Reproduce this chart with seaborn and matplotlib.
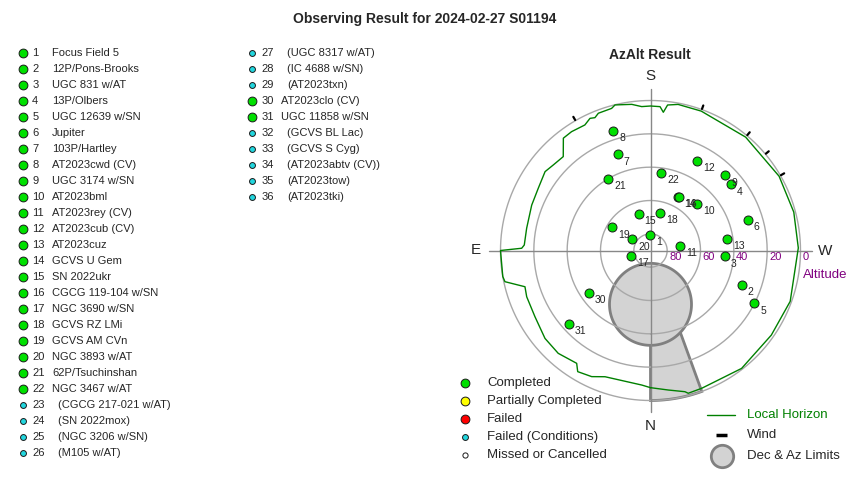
import numpy as np
import pandas as pd
import matplotlib
matplotlib.use('Agg')
import matplotlib.pyplot as plt
import seaborn as sns

# --- data ---------------------------------------------------------------
chart_title = 'Observing Result for 2024-02-27 S01194'

target_ids = list(range(1, 37))
target_names = ['Focus Field 5', '12P/Pons-Brooks', 'UGC 831 w/AT', '13P/Olbers',
                'UGC 12639 w/SN', 'Jupiter', '103P/Hartley', 'AT2023cwd (CV)',
                'UGC 3174 w/SN', 'AT2023bml', 'AT2023rey (CV)', 'AT2023cub (CV)',
                'AT2023cuz', 'GCVS U Gem', 'SN 2022ukr', 'CGCG 119-104 w/SN',
                'NGC 3690 w/SN', 'GCVS RZ LMi', 'GCVS AM CVn', 'NGC 3893 w/AT',
                '62P/Tsuchinshan', 'NGC 3467 w/AT', '(CGCG 217-021 w/AT)', '(SN 2022mox)',
                '(NGC 3206 w/SN)', '(M105 w/AT)', '(UGC 8317 w/AT)', '(IC 4688 w/SN)',
                '(AT2023txn)', 'AT2023clo (CV)', 'UGC 11858 w/SN', '(GCVS BL Lac)',
                '(GCVS S Cyg)', '(AT2023abtv (CV))', '(AT2023tow)', '(AT2023tki)']
# C = completed, F = failed (conditions)
target_status = ['C', 'C', 'C', 'C', 'C', 'C', 'C', 'C', 'C', 'C', 'C', 'C',
                 'C', 'C', 'C', 'C', 'C', 'C', 'C', 'C', 'C', 'C', 'F', 'F',
                 'F', 'F', 'F', 'F', 'F', 'C', 'C', 'F', 'F', 'F', 'F', 'F']

# observed positions (azimuth from N through E, altitude) in degrees
obs_ids = [1, 2, 3, 4, 5, 6, 7, 8, 9, 10, 11, 12, 13, 14, 15, 16, 17, 18, 19, 20, 21, 22, 30, 31]
obs_az = [179.3, 290.7, 274.5, 230.6, 297.0, 252.7, 161.3, 162.8, 224.8, 225.4, 260.7, 207.6,
          261.5, 207.5, 161.9, 207.9, 74.0, 194.8, 120.9, 121.6, 149.3, 188.0, 55.5, 48.0]
obs_alt = [80.7, 31.5, 45.2, 27.5, 20.1, 28.9, 29.1, 14.7, 26.4, 50.5, 72.2, 29.4,
           43.4, 53.8, 67.1, 53.6, 78.0, 66.9, 62.9, 77.2, 40.1, 43.2, 45.0, 23.9]

horizon_az = [0, 3.7, 19.8, 25.0, 31.0, 33.2, 41.9, 50.2, 60.2, 69.5, 73.9, 77.9, 80, 90,
              91.0, 92.5, 100.2, 110.9, 119.0, 126.8, 131.3, 137.1, 142.2, 146.4, 152.4,
              155.4, 157.3, 159.2, 164.7, 166.3, 172.7, 176.5, 180, 183.8, 185.3, 186.7,
              190.7, 200, 220, 240, 255, 269, 290, 305, 322.3, 339.6, 345.2, 346.3, 352.7, 360]
horizon_alt = [7.7, 9.1, 9.5, 6.5, 5.2, 9.1, 7.1, 7.6, 10.1, 10.7, 11.6, 0.7, 0.0, 0.0,
               12.7, 14.2, 14.5, 13.7, 13.0, 11.0, 12.3, 13.1, 4.7, 4.4, 5.0,
               2.8, 3.6, 1.9, 1.6, 0.1, 1.6, 3.5, 3.3, 3.5, 6.7, 2.1,
               0.8, 1.0, 1.2, 0.9, 1.0, 1.3, 0.8, 1.5, 0.6, 1.8, 1.4, 2.8, 5.6, 7.7]

wind_az = [150, 200, 220, 230, 240]

ring_alt = [80, 60, 40, 20, 0]
cardinal_names = ['N', 'E', 'S', 'W']
cardinal_az = [0, 90, 180, 270]

# declination / azimuth limit region
limit_center_zd = 32.3
limit_radius = 24.6
limit_wedge_az = [340, 360]

status_labels = ['Completed', 'Partially Completed', 'Failed', 'Failed (Conditions)', 'Missed or Cancelled']
status_colors = ['#00e000', '#ffff00', '#ff0000', '#22d6de', '#ffffff']
status_sizes = [40, 40, 40, 18, 14]

# --- figure -------------------------------------------------------------
sns.set_style('white')
plt.rcParams['font.family'] = ['Liberation Sans', 'DejaVu Sans']

fig = plt.figure(figsize=(8.5, 4.8), dpi=100)

# pixel overlay for the list and legends
ov = fig.add_axes([0, 0, 1, 1])
ov.set_xlim(0, 850)
ov.set_ylim(480, 0)
ov.axis('off')

fig.text(0.5, 1 - 19 / 480, chart_title, ha='center', va='center', fontsize=10, fontweight='bold')

# target list in two columns
for i, (tid, name, st) in enumerate(zip(target_ids, target_names, target_status)):
    col, row = divmod(i, 26)
    x0 = 22.7 + col * 229
    y = 52.5 + row * 16
    k = 0 if st == 'C' else 3
    ov.scatter([x0], [y], s=status_sizes[k], color=status_colors[k], edgecolor='#1a1a1a',
               linewidth=0.7, zorder=3)
    ov.text(x0 + 9.5, y, str(tid), ha='left', va='center', fontsize=8)
    ov.text(x0 + (29.5 if st == 'C' else 35.5), y, name, ha='left', va='center', fontsize=8)

# status legend
for k, (lab, colr) in enumerate(zip(status_labels, status_colors)):
    y = 383 + k * 18
    ov.scatter([465], [y], s=status_sizes[k], color=colr, edgecolor='#1a1a1a', linewidth=0.7)
    ov.text(487, y, lab, ha='left', va='center', fontsize=9.5)

# right legend
ov.plot([707, 735], [415, 415], color='#008000', lw=1)
ov.text(747, 415, 'Local Horizon', color='#008000', ha='left', va='center', fontsize=9.5)
ov.plot([716, 727], [435, 435], color='black', lw=2.5, solid_capstyle='butt')
ov.text(747, 435, 'Wind', ha='left', va='center', fontsize=9.5)
ov.scatter([722], [456], s=260, color='#d3d3d3', edgecolor='#808080', linewidth=2)
ov.text(747, 456, 'Dec & Az Limits', ha='left', va='center', fontsize=9.5)

ov.text(650, 55, 'AzAlt Result', ha='center', va='center', fontsize=10, fontweight='bold')

# polar chart: r = zenith distance
rmax = 97
pr = rmax * 150 / 90
ax = fig.add_axes([(650.5 - pr) / 850, (229.5 - pr) / 480, 2 * pr / 850, 2 * pr / 480],
                  projection='polar')
ax.set_theta_zero_location('S')
ax.set_theta_direction(-1)
ax.set_facecolor('none')
ax.grid(False)
ax.spines['polar'].set_visible(False)

full = np.linspace(0, 2 * np.pi, 361)

# limit region: wedge first, circle on top
w0, w1 = np.deg2rad(limit_wedge_az[0] - 360), np.deg2rad(limit_wedge_az[1] - 360)
arc = np.linspace(w1, w0, 30)
wedge_th = np.concatenate([[w1, w1], arc, [w0, w0]])
wedge_r = np.concatenate([[limit_center_zd, 90], np.full(30, 90), [90, limit_center_zd]])
ax.fill(wedge_th, wedge_r, facecolor='#d3d3d3', edgecolor='#808080', lw=2, zorder=1)
t = np.linspace(0, 2 * np.pi, 200)
cx = limit_center_zd + limit_radius * np.cos(t)
cy = limit_radius * np.sin(t)
ax.fill(np.arctan2(cy, cx), np.hypot(cx, cy), facecolor='#d3d3d3', edgecolor='#808080',
        lw=2, zorder=1.5)

# rings and cross
for a in ring_alt:
    ax.plot(full, np.full_like(full, 90 - a), color='#a8a8a8', lw=1, zorder=2)
    ax.annotate(str(a), (np.deg2rad(270), 90 - a), xytext=(1.5, -5), textcoords='offset points',
                ha='left', va='center', fontsize=8, color='#800080', zorder=6)
ax.annotate('Altitude', (np.deg2rad(270), 90), xytext=(1.5, -17.5), textcoords='offset points',
            ha='left', va='center', fontsize=9.5, color='#800080', annotation_clip=False)
for a, nm in zip(cardinal_az, cardinal_names):
    th = np.deg2rad(a)
    ax.plot([th, th], [0, rmax], color='#888888', lw=1, zorder=2, clip_on=False)
    ax.text(th, 105, nm, ha='center', va='center', fontsize=11, clip_on=False)

# local horizon and wind
ax.plot(np.deg2rad(horizon_az), 90 - np.array(horizon_alt), color='#008000', lw=1, zorder=4)
for a in wind_az:
    ax.plot([np.deg2rad(a)] * 2, [90.4, 92.6], color='black', lw=1.6, zorder=4, clip_on=False)

# observed targets
obs = pd.DataFrame({'id': obs_ids, 'theta': np.deg2rad(obs_az), 'zd': 90 - np.array(obs_alt)})
sns.scatterplot(data=obs, x='theta', y='zd', ax=ax, s=42, color=status_colors[0],
                edgecolor='#1a1a1a', linewidth=0.7, zorder=5, legend=False)
for _, row in obs.iterrows():
    ax.annotate(str(int(row['id'])), (row['theta'], row['zd']), xytext=(4.3, -5.2),
                textcoords='offset points', ha='left', va='center', fontsize=7.5, zorder=6)

ax.set_xlabel('')
ax.set_ylabel('')
ax.set_xticks([])
ax.set_yticks([])
ax.set_ylim(0, rmax)

fig.savefig('out.png', dpi=100)
